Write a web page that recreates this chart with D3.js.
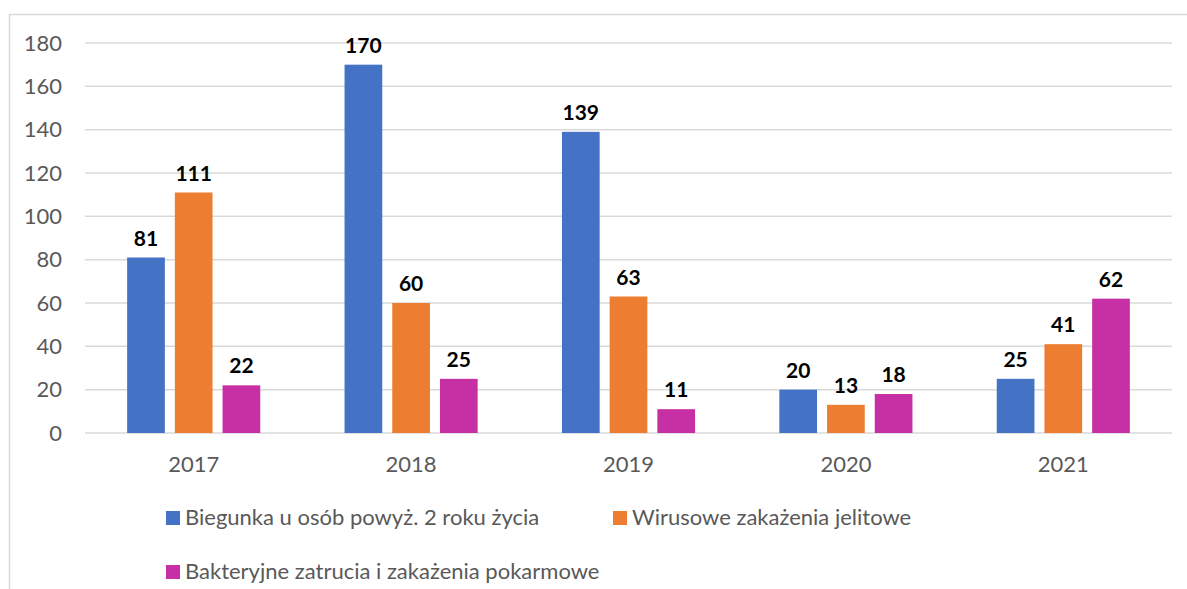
<!DOCTYPE html>
<html><head><meta charset="utf-8">
<script src="https://cdn.jsdelivr.net/npm/d3@7"></script>
<style>
html,body{margin:0;padding:0;background:#fff;}
svg{display:block;font-family:Lato,"Open Sans",sans-serif;}
</style></head>
<body>
<svg id="chart" width="1187" height="589"></svg>
<script>
const categories = ["2017","2018","2019","2020","2021"];
const seriesNames = ["Biegunka u osób powyż. 2 roku życia","Wirusowe zakażenia jelitowe","Bakteryjne zatrucia i zakażenia pokarmowe"];
const biegunka = [81,170,139,20,25];
const wirusowe = [111,60,63,13,41];
const bakteryjne = [22,25,11,18,62];
const yTicks = [0,20,40,60,80,100,120,140,160,180];
const colors = ["#4472C4","#ED7D31","#C730A5"];

const series = [biegunka, wirusowe, bakteryjne];
const svg = d3.select("#chart");
const FONT = "Lato,'Open Sans',sans-serif";

// outer frame
svg.append("rect").attr("x",9.5).attr("y",14.5).attr("width",1300).attr("height",700)
  .attr("fill","none").attr("stroke","#d9d9d9").attr("stroke-width",1.5);

const pLeft = 85, pRight = 1172, pTop = 43, pBottom = 433;
const x0 = d3.scaleBand().domain(categories).range([pLeft,pRight]).padding(0);
const groupW = 3*37.7 + 2*10;
const x1 = d3.scaleBand().domain(d3.range(3)).range([0,groupW]).paddingInner(10/47.7);
const y = d3.scaleLinear().domain([0,180]).range([pBottom,pTop]);

// gridlines
svg.append("g").selectAll("line").data(yTicks).join("line")
  .attr("x1",pLeft).attr("x2",pRight)
  .attr("y1",d=>y(d)).attr("y2",d=>y(d))
  .attr("stroke","#d9d9d9").attr("stroke-width",1.5);

// y axis labels
const yAxis = d3.axisLeft(y).tickValues(yTicks).tickSize(0).tickPadding(0);
const gy = svg.append("g").attr("transform",`translate(62,0)`).call(yAxis);
gy.select(".domain").remove();
gy.selectAll("text").attr("fill","#595959").style("font-size","22px").style("font-family",FONT);

// x axis labels
const xAxis = d3.axisBottom(x0).tickSize(0).tickPadding(0);
const gx = svg.append("g").attr("transform",`translate(0,456)`).call(xAxis);
gx.select(".domain").remove();
gx.selectAll("text").attr("fill","#595959").style("font-size","22px").style("font-family",FONT);

// bars
const offset = (x0.bandwidth()-groupW)/2;
const groups = svg.append("g").selectAll("g").data(categories).join("g")
  .attr("transform",d=>`translate(${x0(d)+offset},0)`);
groups.selectAll("rect").data((c,i)=>series.map((s,k)=>({k,v:s[i]}))).join("rect")
  .attr("x",d=>x1(d.k)).attr("width",x1.bandwidth())
  .attr("y",d=>y(d.v)).attr("height",d=>y(0)-y(d.v))
  .attr("fill",d=>colors[d.k]);
groups.selectAll("text").data((c,i)=>series.map((s,k)=>({k,v:s[i]}))).join("text")
  .attr("x",d=>x1(d.k)+x1.bandwidth()/2).attr("y",d=>y(d.v)-12)
  .attr("text-anchor","middle").attr("font-weight","bold").attr("font-size","21px")
  .attr("fill","#000").text(d=>d.v);

// legend
const legendPos = [[166,511],[613,511],[166,565]];
const lg = svg.append("g").selectAll("g").data(seriesNames).join("g")
  .attr("transform",(d,i)=>`translate(${legendPos[i][0]},${legendPos[i][1]})`);
lg.append("rect").attr("width",14).attr("height",14).attr("fill",(d,i)=>colors[i]);
lg.append("text").attr("x",19).attr("y",13.5).attr("font-size","22px").attr("fill","#595959").text(d=>d);
</script>
</body></html>
